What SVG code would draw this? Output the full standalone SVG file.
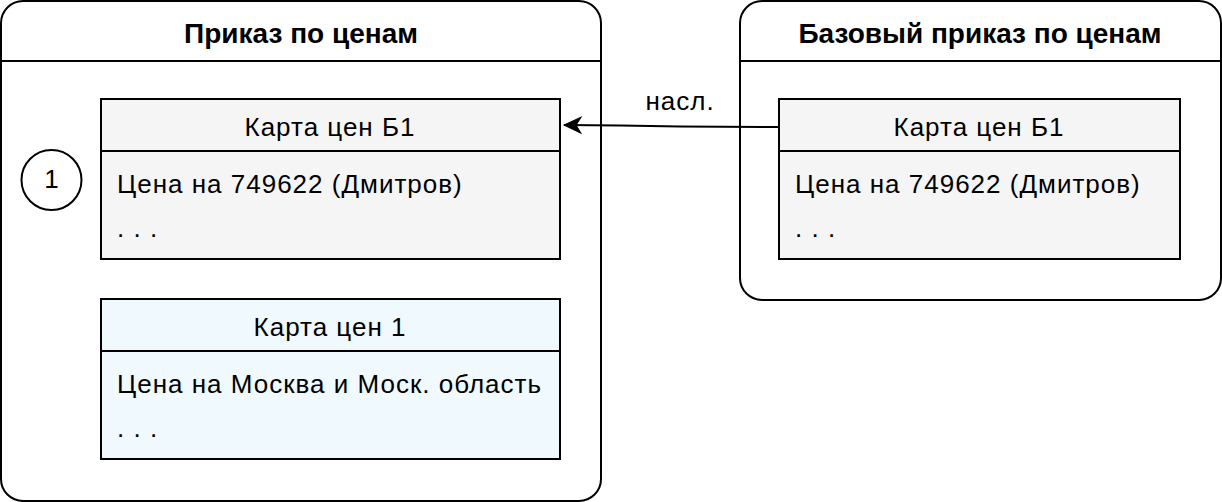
<svg xmlns="http://www.w3.org/2000/svg" width="1222" height="502" viewBox="0 0 1222 502">
<defs>
<style>
.cont{fill:#fff;stroke:#000;stroke-width:2}
.line{stroke:#000;stroke-width:2;fill:none}
.card{stroke:#000;stroke-width:2}
.t{font-family:"Liberation Sans",Arial,sans-serif;font-size:26px;letter-spacing:1px;fill:#000}
.b{font-family:"Liberation Sans",Arial,sans-serif;font-size:28px;font-weight:bold;fill:#000}
</style>
<marker id="arr" viewBox="0 0 20 18" refX="19" refY="9" markerWidth="20" markerHeight="18" markerUnits="userSpaceOnUse" orient="auto">
<path d="M19,9 L2,1 L7,9 L2,17 Z" fill="#000" stroke="#000" stroke-width="1" stroke-linejoin="miter"/>
</marker>
</defs>
<g id="container-left">
<rect class="cont" x="1" y="1" width="600" height="500" rx="22"/>
<line class="line" x1="1" y1="61" x2="601" y2="61"/>
<text class="b" x="301" y="43" text-anchor="middle">Приказ по ценам</text>
</g>
<g id="circle-1">
<circle cx="51.5" cy="180" r="30" fill="#fff" stroke="#000" stroke-width="2"/>
<text class="t" x="52" y="188" text-anchor="middle" letter-spacing="0">1</text>
</g>
<g id="card-b1-left">
<rect class="card" x="101" y="99" width="459" height="160" fill="#f5f5f5"/>
<line class="line" x1="101" y1="151" x2="560" y2="151"/>
<text class="t" x="330" y="136" text-anchor="middle">Карта цен Б1</text>
<text class="t" x="117" y="193">Цена на 749622 (Дмитров)</text>
<text class="t" x="117" y="237">. . .</text>
</g>
<g id="card-1">
<rect class="card" x="101" y="299" width="459" height="160" fill="#eff9fe"/>
<line class="line" x1="101" y1="351" x2="560" y2="351"/>
<text class="t" x="330" y="336" text-anchor="middle">Карта цен 1</text>
<text class="t" x="117" y="393">Цена на Москва и Моск. область</text>
<text class="t" x="117" y="437">. . .</text>
</g>
<g id="container-right">
<rect class="cont" x="740" y="1" width="481" height="299" rx="22"/>
<line class="line" x1="740" y1="61" x2="1221" y2="61"/>
<text class="b" x="980" y="43" text-anchor="middle">Базовый приказ по ценам</text>
</g>
<g id="card-b1-right">
<rect class="card" x="779" y="99" width="401" height="160" fill="#f5f5f5"/>
<line class="line" x1="779" y1="151" x2="1180" y2="151"/>
<text class="t" x="979" y="136" text-anchor="middle">Карта цен Б1</text>
<text class="t" x="795" y="193">Цена на 749622 (Дмитров)</text>
<text class="t" x="795" y="237">. . .</text>
</g>
<g id="connectors">
<path class="line" d="M779,127 L680,126.5 Q650,126 620,125.5 L564,125" marker-end="url(#arr)"/>
<text class="t" x="680" y="110" text-anchor="middle">насл.</text>
</g>
</svg>
